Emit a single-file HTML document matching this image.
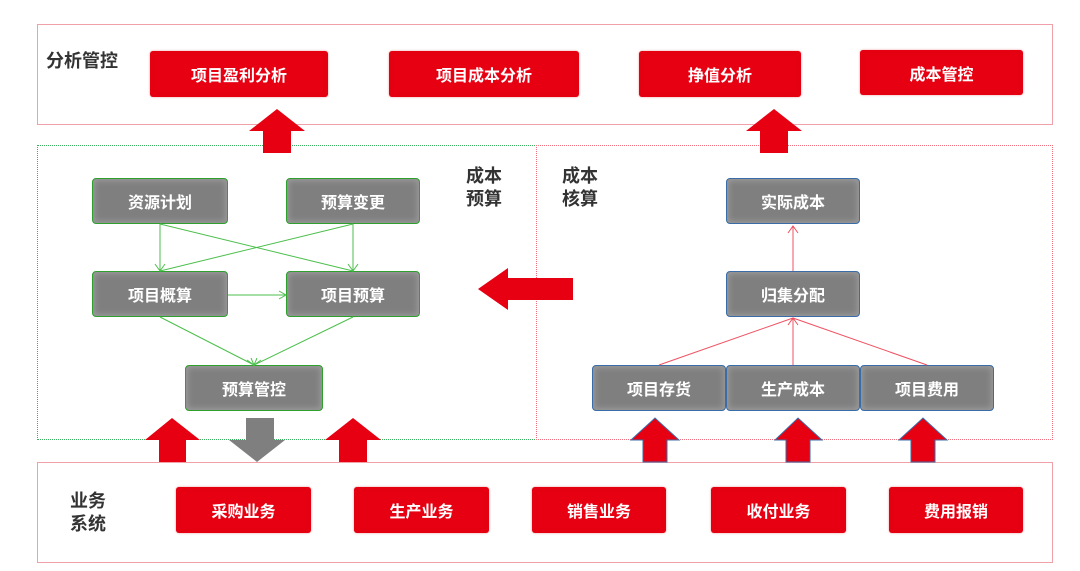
<!DOCTYPE html>
<html><head><meta charset="utf-8"><style>
body{margin:0;width:1080px;height:571px;background:#fff;position:relative;overflow:hidden;font-family:"Liberation Sans","Noto Sans CJK SC",sans-serif}
.a{position:absolute;box-sizing:border-box}
.r{background:#e60012;color:#fff;font-size:16px;font-weight:bold;display:flex;align-items:center;justify-content:center;border-radius:3px;box-shadow:0 0 4px 1px rgba(230,0,18,.5) inset,0 0 2px rgba(200,0,0,.4)}
.g{background:#7f7f7f;color:#fff;font-size:16px;font-weight:bold;display:flex;align-items:center;justify-content:center;border-radius:4px;box-shadow:inset 0 0 6px 2px #9a9a9a}
.gn{border:1.5px solid #2ea02e}
.bl{border:1.5px solid #3a6da8}
.t{font-size:18px;font-weight:bold;color:#333;line-height:23px}
</style></head><body>
<div class="a" style="left:37px;top:24px;width:1016px;height:101px;border:1px solid #f0a0a8"></div>
<div class="a" style="left:37px;top:462px;width:1016px;height:101px;border:1px solid #f0a0a8"></div>
<div class="a" style="left:37px;top:145px;width:500px;height:295px;border:1px dotted #3cb060"></div>
<div class="a" style="left:536px;top:145px;width:517px;height:295px;border:1px dotted #f07080"></div>
<div class="a t" style="left:46px;top:50px">分析管控</div>
<div class="a t" style="left:466px;top:165px">成本<br>预算</div>
<div class="a t" style="left:562px;top:165px">成本<br>核算</div>
<div class="a t" style="left:70px;top:490px">业务<br>系统</div>
<div class="a r" style="left:150px;top:51px;width:178px;height:46px">项目盈利分析</div>
<div class="a r" style="left:389px;top:51px;width:190px;height:46px">项目成本分析</div>
<div class="a r" style="left:639px;top:51px;width:162px;height:46px">挣值分析</div>
<div class="a r" style="left:860px;top:50px;width:163px;height:45px">成本管控</div>
<div class="a r" style="left:176px;top:487px;width:135px;height:46px">采购业务</div>
<div class="a r" style="left:354px;top:487px;width:135px;height:46px">生产业务</div>
<div class="a r" style="left:532px;top:487px;width:134px;height:46px">销售业务</div>
<div class="a r" style="left:711px;top:487px;width:135px;height:46px">收付业务</div>
<div class="a r" style="left:889px;top:487px;width:134px;height:46px">费用报销</div>
<div class="a g gn" style="left:92px;top:178px;width:136px;height:46px">资源计划</div>
<div class="a g gn" style="left:286px;top:178px;width:134px;height:46px">预算变更</div>
<div class="a g gn" style="left:92px;top:271px;width:136px;height:46px">项目概算</div>
<div class="a g gn" style="left:286px;top:271px;width:134px;height:46px">项目预算</div>
<div class="a g gn" style="left:185px;top:365px;width:138px;height:46px">预算管控</div>
<div class="a g bl" style="left:726px;top:178px;width:134px;height:46px">实际成本</div>
<div class="a g bl" style="left:726px;top:271px;width:134px;height:46px">归集分配</div>
<div class="a g bl" style="left:592px;top:365px;width:134px;height:46px">项目存货</div>
<div class="a g bl" style="left:726px;top:365px;width:134px;height:46px">生产成本</div>
<div class="a g bl" style="left:860px;top:365px;width:134px;height:46px">项目费用</div>
<svg class="a" style="left:0;top:0" width="1080" height="571">
<g fill="#e60012">
<polygon points="249,131 277,109 305,131 291,131 291,153 263,153 263,131"/>
<polygon points="746,131 774,109 802,131 788,131 788,153 760,153 760,131"/>
<polygon points="478,289 508,268 508,278 573,278 573,300 508,300 508,310"/>
<polygon points="145,440 172,418 200,440 186,440 186,462 159,462 159,440"/>
<polygon points="325,440 353,418 381,440 367,440 367,462 339,462 339,440"/>
<polygon points="631,440 655,418 679,440 667,440 667,462 643,462 643,440" stroke="#3a6da8" stroke-width="1"/>
<polygon points="775,440 798,418 822,440 810,440 810,462 786,462 786,440" stroke="#3a6da8" stroke-width="1"/>
<polygon points="899,440 923,418 947,440 935,440 935,462 911,462 911,440" stroke="#3a6da8" stroke-width="1"/>
</g>
<polygon points="246,418 274,418 274,440 285,440 257,462 229,440 246,440" fill="#7f7f7f"/>
<g stroke="#4cbf4c" stroke-width="1" fill="none">
<line x1="160" y1="224" x2="160" y2="271"/><line x1="353" y1="224" x2="353" y2="271"/>
<line x1="160" y1="224" x2="353" y2="271"/><line x1="353" y1="224" x2="160" y2="271"/>
<line x1="228" y1="295" x2="286" y2="295"/>
<line x1="160" y1="317" x2="254" y2="365"/><line x1="353" y1="317" x2="254" y2="365"/>
<path d="M155,264 160,271 165,264 M348,264 353,271 358,264 M279,291 286,295 279,299 M247,360 254,365 251,358 M261,360 254,365 257,358"/>
</g>
<g stroke="#f05060" stroke-width="1" fill="none">
<line x1="793" y1="271" x2="793" y2="226"/>
<line x1="793" y1="365" x2="793" y2="318"/>
<line x1="659" y1="365" x2="793" y2="318"/><line x1="927" y1="365" x2="793" y2="318"/>
<path d="M788,233 793,226 798,233 M788,325 793,318 798,325"/>
</g>
</svg>
</body></html>
